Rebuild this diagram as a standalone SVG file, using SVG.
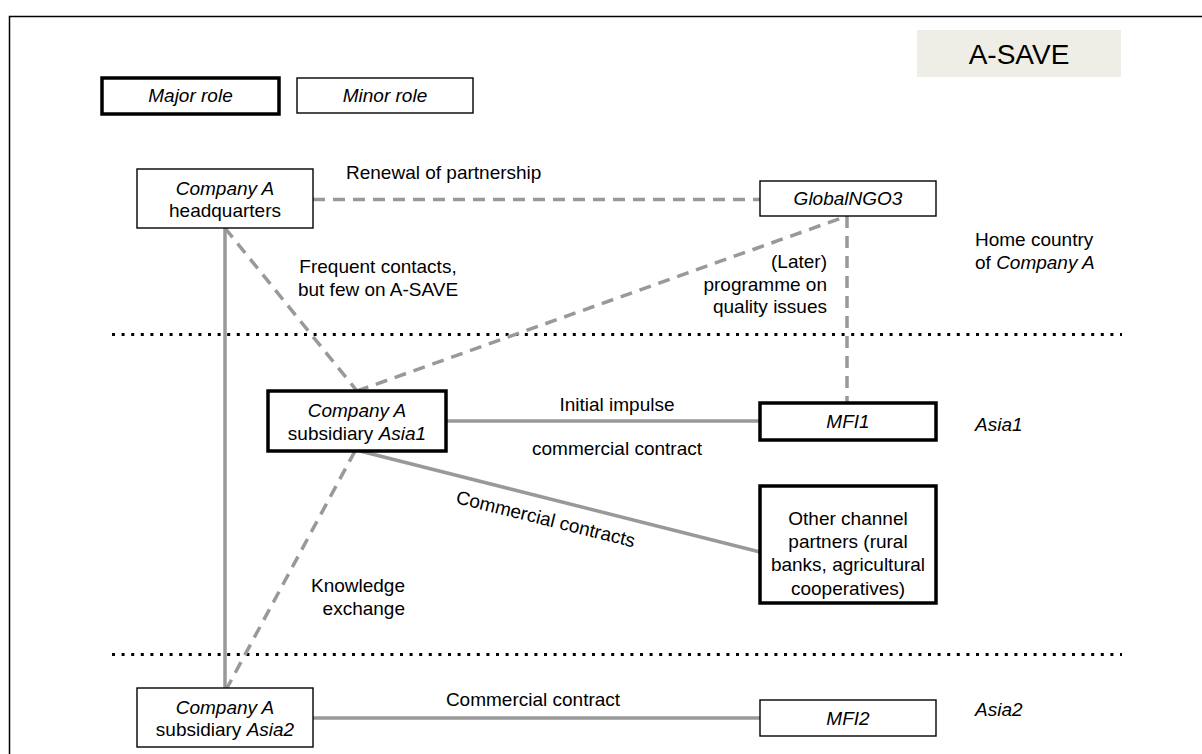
<svg xmlns="http://www.w3.org/2000/svg" width="1202" height="754" viewBox="0 0 1202 754">
<style>
text{font-family:"Liberation Sans",Arial,sans-serif;font-size:19px;fill:#000}
.c{text-anchor:middle}
.r{text-anchor:end}
.i{font-style:italic}
.box{fill:#fff;stroke:#000;stroke-width:1.4}
.major{fill:#fff;stroke:#000;stroke-width:3.5}
.solid{fill:none;stroke:#999;stroke-width:3.5}
.dash{fill:none;stroke:#999;stroke-width:3.5;stroke-dasharray:12 8}
.dot{fill:none;stroke:#000;stroke-width:3;stroke-dasharray:3 6.6}
</style>
<rect x="0" y="0" width="1202" height="754" fill="#fff"/>
<rect x="9.5" y="16.5" width="1200" height="800" fill="none" stroke="#000" stroke-width="1.5"/>

<g id="title">
<rect x="917" y="30" width="204" height="47" fill="#efeee6"/>
<text x="1019" y="64" class="c" style="font-size:28px">A-SAVE</text>
</g>

<g id="legend-major">
<rect x="102" y="78" width="177" height="36" class="major"/>
<text x="190.5" y="102" class="c i">Major role</text>
</g>
<g id="legend-minor">
<rect x="297" y="78" width="176" height="35" class="box"/>
<text x="385" y="102" class="c i">Minor role</text>
</g>

<g id="separators">
<line x1="112" y1="334.5" x2="1122" y2="334.5" class="dot"/>
<line x1="112" y1="654.5" x2="1122" y2="654.5" class="dot"/>
</g>

<g id="connectors">
<path d="M313 199.5 H760" class="dash"/>
<path d="M225 228 L357 391" class="dash"/>
<path d="M357 391 L847 216" class="dash"/>
<path d="M847 216 V403" class="dash"/>
<path d="M225 228 V688" class="solid"/>
<path d="M355 451 L227 688" class="dash"/>
<path d="M446 421 H760" class="solid"/>
<path d="M360 451 L760 552" class="solid"/>
<path d="M313 718 H760" class="solid"/>
</g>

<g id="connector-labels">
<text x="346" y="179">Renewal of partnership</text>
<text x="378" y="273" class="c">Frequent contacts,</text>
<text x="378" y="296" class="c">but few on A-SAVE</text>
<text x="827" y="268" class="r">(Later)</text>
<text x="827" y="291" class="r">programme on</text>
<text x="827" y="313" class="r">quality issues</text>
<text x="617" y="411" class="c">Initial impulse</text>
<text x="617" y="455" class="c">commercial contract</text>
<text x="455" y="503" transform="rotate(14 455 503)">Commercial contracts</text>
<text x="405" y="592" class="r">Knowledge</text>
<text x="405" y="615" class="r">exchange</text>
<text x="533" y="706" class="c">Commercial contract</text>
</g>

<g id="region-labels">
<text x="975" y="246">Home country</text>
<text x="975" y="269">of <tspan class="i">Company A</tspan></text>
<text x="975" y="431" class="i">Asia1</text>
<text x="975" y="716" class="i">Asia2</text>
</g>

<g id="hq">
<rect x="137" y="169" width="176" height="59" class="box"/>
<text x="225" y="195" class="c i">Company A</text>
<text x="225" y="217" class="c">headquarters</text>
</g>

<g id="globalngo3">
<rect x="760" y="181" width="176" height="35" class="box"/>
<text x="848" y="205" class="c i">GlobalNGO3</text>
</g>

<g id="asia1">
<rect x="268" y="391" width="178" height="60" class="major"/>
<text x="357" y="417" class="c i">Company A</text>
<text x="357" y="440" class="c">subsidiary <tspan class="i">Asia1</tspan></text>
</g>

<g id="mfi1">
<rect x="760" y="403" width="176" height="37" class="major"/>
<text x="848" y="428" class="c i">MFI1</text>
</g>

<g id="other">
<rect x="760" y="486" width="176" height="117" class="major"/>
<text x="848" y="525" class="c">Other channel</text>
<text x="848" y="548" class="c">partners (rural</text>
<text x="848" y="571" class="c">banks, agricultural</text>
<text x="848" y="595" class="c">cooperatives)</text>
</g>

<g id="asia2">
<rect x="137" y="688" width="176" height="59" class="box"/>
<text x="225" y="714" class="c i">Company A</text>
<text x="225" y="736" class="c">subsidiary <tspan class="i">Asia2</tspan></text>
</g>

<g id="mfi2">
<rect x="760" y="700" width="176" height="36" class="box"/>
<text x="848" y="725" class="c i">MFI2</text>
</g>
</svg>
